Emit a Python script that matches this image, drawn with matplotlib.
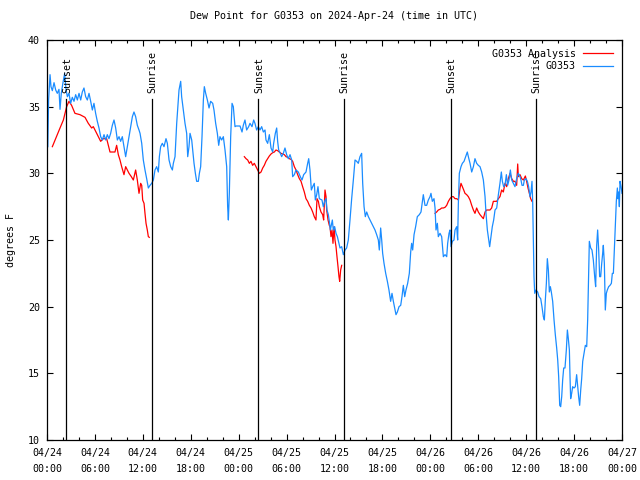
import matplotlib
matplotlib.use("Agg")
import matplotlib.pyplot as plt

# hours since 2024-04-24 00:00 UTC, dew point in degrees F
obs_hours = [
    0.1, 0.2, 0.38, 0.5, 0.67, 0.88, 1.09, 1.29, 1.5, 1.63, 1.79, 2.0, 2.21, 2.38, 2.55,
    2.75, 2.96, 3.17, 3.38, 3.59, 3.8, 4.01, 4.22, 4.42, 4.63, 4.84, 5.05, 5.26, 5.47,
    5.68, 5.88, 6.09, 6.3, 6.51, 6.72, 6.93, 7.14, 7.35, 7.55, 7.76, 7.97, 8.18, 8.39,
    8.6, 8.81, 9.02, 9.22, 9.43, 9.64, 9.85, 10.06, 10.27, 10.48, 10.69, 10.89, 11.1,
    11.31, 11.52, 11.65, 11.86, 12.06, 12.27, 12.48, 12.69, 12.9, 13.11, 13.32, 13.52,
    13.73, 13.94, 14.07, 14.23, 14.44, 14.65, 14.9, 15.07, 15.28, 15.49, 15.7, 15.82,
    16.03, 16.24, 16.36, 16.53, 16.74, 16.86, 17.07, 17.28, 17.49, 17.62, 17.78, 17.91,
    18.12, 18.24, 18.41, 18.58, 18.74, 18.95, 19.08, 19.24, 19.41, 19.58, 19.7, 19.87,
    20.08, 20.29, 20.49, 20.75, 20.91, 21.12, 21.33, 21.5, 21.66, 21.87, 22.08, 22.29,
    22.5, 22.62, 22.71, 22.83, 23.0, 23.17, 23.33, 23.54, 23.67, 24.17, 24.42, 24.58,
    24.79, 25.0, 25.25, 25.42, 25.67, 25.88, 26.04, 26.25, 26.46, 26.67, 26.88, 27.09,
    27.3, 27.42, 27.63, 27.84, 28.05, 28.26, 28.38, 28.59, 28.76, 28.88, 29.01, 29.22,
    29.38, 29.59, 29.8, 30.01, 30.22, 30.43, 30.64, 30.76, 30.97, 31.18, 31.47, 31.72,
    31.93, 32.14, 32.43, 32.64, 32.77, 32.93, 33.1, 33.27, 33.47, 33.6, 33.77, 33.93,
    34.1, 34.43, 34.6, 34.77, 34.94, 35.06, 35.23, 35.35, 35.48, 35.56, 35.73, 35.85,
    36.02, 36.19, 36.36, 36.56, 36.69, 36.9, 37.11, 37.32, 37.52, 37.73, 37.94, 38.15,
    38.36, 38.57, 38.78, 38.98, 39.19, 39.4, 39.53, 39.7, 39.86, 40.03, 40.24, 40.45,
    40.65, 40.86, 41.07, 41.28, 41.49, 41.61, 41.78, 41.91, 42.03, 42.2, 42.41, 42.62,
    42.82, 43.03, 43.2, 43.37, 43.58, 43.7, 43.87, 44.08, 44.29, 44.45, 44.62, 44.79,
    44.95, 45.16, 45.37, 45.54, 45.66, 45.79, 45.96, 46.16, 46.37, 46.62, 46.83, 47.0,
    47.12, 47.33, 47.54, 47.75, 47.96, 48.08, 48.25, 48.46, 48.59, 48.71, 48.88, 49.0,
    49.21, 49.42, 49.63, 49.84, 50.05, 50.17, 50.34, 50.46, 50.59, 50.76, 50.96, 51.09,
    51.3, 51.42, 51.51, 51.63, 51.84, 52.01, 52.22, 52.43, 52.63, 52.76, 52.97, 53.18,
    53.39, 53.59, 53.8, 54.01, 54.22, 54.43, 54.64, 54.85, 54.97, 55.14, 55.26, 55.43,
    55.6, 55.76, 55.93, 56.1, 56.31, 56.52, 56.72, 56.89, 57.02, 57.18, 57.35, 57.52,
    57.68, 57.85, 58.02, 58.19, 58.39, 58.6, 58.81, 59.02, 59.23, 59.35, 59.48, 59.65,
    59.77, 59.98, 60.15, 60.31, 60.48, 60.61, 60.73, 60.82, 60.9, 60.98, 61.07, 61.23,
    61.44, 61.61, 61.82, 61.98, 62.15, 62.28, 62.4, 62.53, 62.65, 62.78, 62.9, 63.03,
    63.15, 63.32, 63.49, 63.65, 63.82, 63.95, 64.07, 64.2, 64.32, 64.45, 64.57, 64.7,
    64.86, 65.03, 65.16, 65.28, 65.41, 65.49, 65.57, 65.7, 65.82, 65.99, 66.16, 66.32,
    66.45, 66.57, 66.7, 66.83, 66.95, 67.08, 67.24, 67.41, 67.58, 67.7, 67.83, 67.91,
    68.08, 68.24, 68.41, 68.58, 68.7, 68.83, 68.95, 69.08, 69.2, 69.33, 69.46, 69.58,
    69.66, 69.79, 69.91, 70.04, 70.16, 70.33, 70.5, 70.67, 70.79, 70.92, 71.04, 71.17,
    71.29, 71.42, 71.5, 71.58, 71.67, 71.75, 71.88, 72.0,
]
obs_dewpt = [
    32.0, 35.5, 37.4, 36.5, 36.2, 36.8, 36.25, 36.0, 36.3, 34.8, 36.0, 36.8, 37.5, 36.3, 35.75,
    36.0, 35.25, 35.7, 35.4, 35.9, 35.5, 36.0, 35.5, 36.1, 36.4, 35.75, 35.5, 36.0, 35.4,
    34.75, 35.25, 34.5, 33.9, 33.4, 32.75, 32.5, 32.9, 32.5, 32.9, 32.6, 33.0, 33.6, 34.0,
    33.4, 32.5, 32.75, 32.4, 32.75, 32.0, 31.25, 32.0, 32.75, 33.5, 34.25, 34.6, 34.25,
    33.6, 33.25, 33.0, 32.25, 31.0, 30.25, 29.6, 28.9, 29.1, 29.25, 29.5, 30.25,
    30.5, 30.1, 31.25, 32.0, 32.25, 32.0, 32.6, 32.25, 31.0, 30.5, 30.25, 30.75,
    31.25, 33.75, 34.75, 36.25, 36.9, 35.75, 34.75, 33.75, 33.0, 31.25, 32.0, 33.0,
    32.5, 31.75, 30.75, 30.0, 29.4, 29.4, 30.0, 30.5, 32.75, 35.5, 36.5, 36.0,
    35.5, 34.9, 35.4, 35.25, 34.75, 33.75, 33.0, 32.1, 32.75, 32.5, 32.75, 31.75,
    30.5, 27.5, 26.5, 28.5, 32.75, 35.25, 35.0, 33.5, 33.55, 33.55, 33.1, 33.6,
    34.0, 33.25, 33.5, 33.75, 33.5, 34.0, 33.75, 33.25, 33.5, 33.25, 33.5, 33.1,
    33.25, 32.5, 32.25, 32.9, 31.9, 31.6, 32.25, 33.0, 33.4, 32.4, 31.75, 31.5,
    31.25, 31.5, 31.9, 31.4, 31.1, 31.4, 31.0, 29.75, 29.9, 30.25, 30.1, 29.75,
    29.5, 29.9, 30.1, 30.75, 31.1, 30.25, 28.75, 29.0, 29.25, 28.0, 28.4, 29.0,
    28.1, 28.0, 27.5, 27.9, 28.1, 27.25, 26.9, 26.4, 25.75, 26.0, 26.5, 25.75,
    26.0, 25.5, 25.25, 24.75, 24.4, 24.5, 23.9, 24.25, 24.4, 25.0, 26.5, 28.1,
    29.5, 31.0, 30.9, 30.75, 31.25, 31.5, 29.25, 27.5, 26.75, 27.1, 26.75, 26.5,
    26.25, 26.0, 25.75, 25.4, 25.0, 24.25, 25.9, 25.0, 24.0, 23.25, 22.5, 21.9,
    21.25, 20.4, 21.0, 20.4, 19.75, 19.4, 19.6, 20.0, 20.1, 20.75, 21.6, 20.75,
    21.25, 21.75, 22.5, 24.1, 24.75, 24.25, 25.4, 26.0, 26.75, 26.9, 27.1, 27.9,
    28.4, 27.6, 27.6, 28.0, 28.25, 28.5, 27.9, 28.1, 27.4, 25.75, 26.25, 25.25,
    25.5, 25.25, 23.75, 23.9, 23.75, 24.75, 25.5, 25.75, 24.5, 24.9, 25.0, 25.75,
    26.0, 25.0, 27.75, 30.0, 30.5, 30.75, 30.9, 31.25, 31.6, 31.25, 30.75, 30.1,
    30.5, 31.1, 30.75, 30.6, 30.5, 30.1, 29.5, 28.25, 27.0, 25.75, 25.25, 24.5,
    25.25, 26.0, 26.5, 27.25, 27.4, 28.4, 29.25, 30.1, 29.4, 29.0, 29.1, 29.9,
    29.1, 29.5, 30.25, 29.5, 29.25, 29.0, 29.6, 30.0, 29.75, 29.5, 29.1, 29.1,
    29.5, 29.6, 29.4, 29.0, 28.25, 28.6, 29.4, 27.75, 25.0, 22.25, 21.0, 21.25,
    21.1, 20.75, 20.6, 20.0, 19.25, 19.0, 20.5, 21.75, 23.6, 22.75, 21.1, 21.5,
    21.1, 20.4, 19.0, 17.9, 16.9, 16.0, 14.75, 12.6, 12.5, 13.25, 14.5, 15.4,
    15.4, 16.75, 18.25, 17.6, 16.75, 14.75, 13.1, 13.5, 14.0, 13.9, 14.0, 14.9,
    14.0, 13.25, 12.6, 13.75, 14.6, 15.9, 16.5, 17.1, 17.0, 19.0, 22.5, 24.9,
    24.4, 24.25, 23.5, 22.25, 21.5, 24.6, 25.75, 24.25, 22.25, 22.25, 23.25, 24.0,
    24.6, 23.25, 19.75, 21.0, 21.25, 21.5, 21.6, 21.75, 22.5, 22.5, 24.25, 26.0,
    27.9, 28.9, 28.1, 28.6, 27.5, 29.4, 29.0, 28.5,
]

# analysis series has three separate pieces
ana_hours_1 = [
    0.67, 1.63, 2.05, 2.46, 2.75, 3.08, 3.5, 4.13, 4.76, 5.17, 5.59, 5.8, 6.22, 6.72,
    7.05, 7.47, 7.68, 7.89, 8.51, 8.72, 8.93, 9.14, 9.35, 9.64, 9.85, 10.06, 10.27,
    10.56, 10.81, 11.1, 11.31, 11.52, 11.73, 11.86, 11.98, 12.15, 12.27, 12.4, 12.56,
    12.69, 12.81,
]
ana_dewpt_1 = [
    32.0, 33.4, 34.0, 35.0, 35.4, 35.1, 34.5, 34.4, 34.2, 33.75, 33.4, 33.5, 33.0, 32.4,
    32.6, 32.6, 32.1, 31.6, 31.6, 32.1, 31.4, 31.0, 30.5, 29.9, 30.5, 30.25, 30.0,
    29.75, 29.5, 30.25, 29.5, 28.5, 29.25, 29.1, 28.0, 27.75, 27.0, 26.25, 25.75,
    25.25, 25.2,
]
ana_hours_2 = [
    24.71, 24.92, 25.13, 25.34, 25.54, 25.75, 25.96, 26.17, 26.38, 26.59, 26.8, 27.01,
    27.21, 27.42, 27.63, 27.84, 28.05, 28.26, 28.47, 28.67, 28.88, 29.09, 29.3, 29.51,
    29.72, 29.93, 30.14, 30.34, 30.55, 30.76, 30.97, 31.18, 31.39, 31.6, 31.81, 32.01,
    32.22, 32.43, 32.64, 32.85, 33.06, 33.27, 33.47, 33.68, 33.81, 33.98, 34.1, 34.31,
    34.52, 34.64, 34.81, 34.94, 35.02, 35.19, 35.35, 35.44, 35.56, 35.69, 35.81, 35.94,
    36.06, 36.19, 36.31, 36.44, 36.56, 36.65, 36.77, 36.9,
]
ana_dewpt_2 = [
    31.25, 31.1, 31.0, 30.75, 30.9, 30.6, 30.75, 30.5, 30.25, 30.0, 30.1, 30.4,
    30.6, 30.9, 31.1, 31.3, 31.45, 31.55, 31.6, 31.75, 31.7, 31.6, 31.5, 31.45,
    31.4, 31.25, 31.2, 31.1, 31.05, 30.9, 30.5, 30.25, 29.9, 29.6, 29.4, 29.0,
    28.6, 28.1, 27.9, 27.6, 27.4, 27.1, 26.75, 26.5, 28.1, 27.9, 27.5, 27.1,
    26.9, 26.5, 28.75, 28.25, 27.25, 26.5, 26.1, 26.0, 25.25, 25.75, 24.75, 26.0,
    25.0, 24.5, 23.75, 23.0, 22.25, 21.9, 22.75, 23.1,
]
ana_hours_3 = [
    48.59, 48.79, 49.0, 49.21, 49.42, 49.63, 49.84, 50.05, 50.26, 50.46, 50.67, 50.88,
    51.09, 51.3, 51.51, 51.72, 51.84, 52.01, 52.18, 52.34, 52.55, 52.76, 52.97, 53.18,
    53.39, 53.59, 53.8, 54.01, 54.22, 54.43, 54.64, 54.85, 55.05, 55.26, 55.47, 55.68,
    55.89, 56.1, 56.31, 56.52, 56.72, 56.93, 57.14, 57.35, 57.56, 57.77, 57.98, 58.19,
    58.4, 58.6, 58.81, 58.94, 59.02, 59.23, 59.44, 59.65, 59.9, 60.06, 60.23, 60.4,
    60.56, 60.73,
]
ana_dewpt_3 = [
    27.0, 27.1, 27.25, 27.3, 27.4, 27.4, 27.45, 27.6, 27.9, 28.1, 28.25, 28.25,
    28.1, 28.1, 28.0, 28.9, 29.25, 29.0, 28.75, 28.5, 28.4, 28.25, 28.0, 27.6,
    27.25, 27.0, 27.4, 27.1, 26.9, 26.75, 26.6, 27.1, 27.25, 27.25, 27.25, 27.4,
    27.9, 27.9, 27.9, 28.1, 28.25, 28.75, 28.6, 29.25, 29.0, 29.6, 30.0, 29.6,
    29.4, 29.4, 29.1, 30.7, 29.75, 29.9, 29.6, 29.5, 29.8, 29.4, 28.9, 28.5,
    28.1, 27.9,
]

sun_labels = ["Sunset", "Sunrise", "Sunset", "Sunrise", "Sunset", "Sunrise"]
sun_hours = [2.44, 13.11, 26.48, 37.15, 50.53, 61.17]
sun_line_top = 35.6

tick_hours = [0, 6, 12, 18, 24, 30, 36, 42, 48, 54, 60, 66, 72]
tick_labels = [
    "04/24\n00:00", "04/24\n06:00", "04/24\n12:00", "04/24\n18:00",
    "04/25\n00:00", "04/25\n06:00", "04/25\n12:00", "04/25\n18:00",
    "04/26\n00:00", "04/26\n06:00", "04/26\n12:00", "04/26\n18:00",
    "04/27\n00:00",
]

RED = "#ff0000"
BLUE = "#1a8cff"
FS = 7.2

plt.rcParams["font.family"] = ["DejaVu Sans Mono"]
fig = plt.figure(figsize=(6.4, 4.8), dpi=100)
ax = fig.add_axes([47 / 640, 40 / 480, 575 / 640, 400 / 480])

ax.plot(ana_hours_1, ana_dewpt_1, color=RED, lw=0.9, label="G0353 Analysis")
ax.plot(ana_hours_2, ana_dewpt_2, color=RED, lw=0.9)
ax.plot(ana_hours_3, ana_dewpt_3, color=RED, lw=0.9)
ax.plot(obs_hours, obs_dewpt, color=BLUE, lw=0.9, label="G0353")

for name, h in zip(sun_labels, sun_hours):
    ax.plot([h, h], [10, sun_line_top], color="black", lw=0.9)
    ax.text(h + 0.12, 36.05, name, rotation=90, ha="center", va="bottom", fontsize=FS)

ax.set_xlim(0, 72)
ax.set_ylim(10, 40)
ax.set_xticks(tick_hours)
ax.set_xticklabels(tick_labels, fontsize=FS, linespacing=1.65)
ax.set_xticks(range(0, 73, 2), minor=True)
ax.set_yticks(range(10, 41, 5))
ax.tick_params(axis="y", labelsize=FS, pad=5)
ax.tick_params(which="both", direction="in", top=True, right=True, width=0.8)
ax.tick_params(which="major", length=4.5)
ax.tick_params(which="minor", length=2.5)
ax.tick_params(axis="x", pad=6)
for s in ax.spines.values():
    s.set_linewidth(0.9)

ax.set_ylabel("degrees F", fontsize=FS, labelpad=9)
# gnuplot centres the title over the plot area, not the page
ax.set_title("Dew Point for G0353 on 2024-Apr-24 (time in UTC)", fontsize=FS, pad=15)

leg = ax.legend(loc="upper right", frameon=False, markerfirst=False, fontsize=FS,
                handlelength=3.0, handletextpad=0.7, labelspacing=0.25,
                borderpad=0.2, borderaxespad=0.7)

fig.savefig("out.png", dpi=100)
